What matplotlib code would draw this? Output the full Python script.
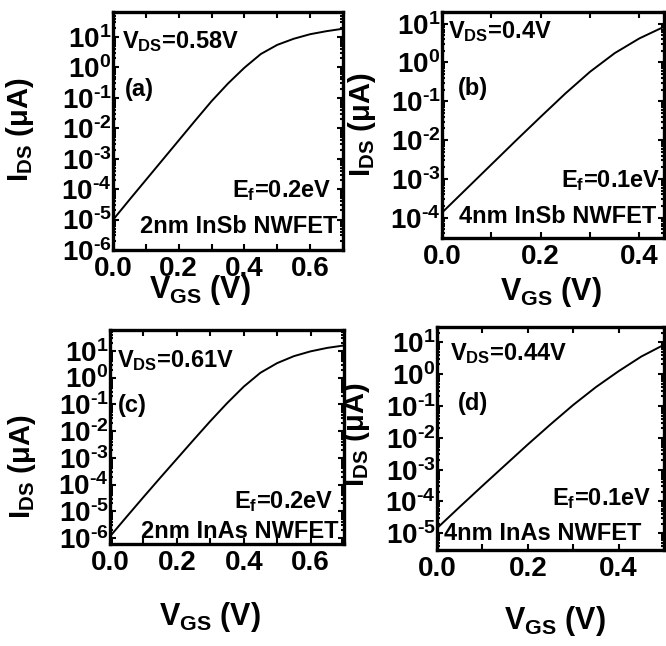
import numpy as np
import matplotlib
matplotlib.use('Agg')
import matplotlib.pyplot as plt
from matplotlib.ticker import FuncFormatter, LogLocator, MultipleLocator, NullFormatter

plt.rcParams['font.family'] = 'Liberation Sans'
plt.rcParams['font.weight'] = 'bold'
plt.rcParams['mathtext.fontset'] = 'custom'
plt.rcParams['mathtext.rm'] = 'Liberation Sans'
plt.rcParams['mathtext.bf'] = 'Liberation Sans:bold'
plt.rcParams['mathtext.it'] = 'Liberation Sans:bold:italic'

# V_GS (V) and log10(I_DS / uA)
vgs_a = [0.0, 0.05, 0.10, 0.15, 0.20, 0.25, 0.30, 0.35, 0.40, 0.45, 0.50, 0.55, 0.60, 0.65, 0.70]
logi_a = [-5.01, -4.35, -3.70, -3.05, -2.40, -1.75, -1.11, -0.53, -0.01, 0.44, 0.74, 0.94, 1.09, 1.19, 1.27]

vgs_b = [0.0, 0.05, 0.10, 0.15, 0.20, 0.25, 0.30, 0.35, 0.40, 0.45]
logi_b = [-3.87, -3.25, -2.63, -2.01, -1.40, -0.80, -0.24, 0.24, 0.62, 0.92]

vgs_c = [0.0, 0.05, 0.10, 0.15, 0.20, 0.25, 0.30, 0.35, 0.40, 0.45, 0.50, 0.55, 0.60, 0.65, 0.70]
logi_c = [-5.94, -5.20, -4.47, -3.75, -3.04, -2.33, -1.63, -0.96, -0.34, 0.18, 0.54, 0.80, 0.98, 1.11, 1.20]

vgs_d = [0.0, 0.05, 0.10, 0.15, 0.20, 0.25, 0.30, 0.35, 0.40, 0.45, 0.50]
logi_d = [-4.84, -4.17, -3.51, -2.86, -2.21, -1.58, -0.97, -0.41, 0.09, 0.55, 0.92]

vds_labels = ['0.58V', '0.4V', '0.61V', '0.44V']
ef_labels = ['0.2eV', '0.1eV', '0.2eV', '0.1eV']
device_labels = ['2nm InSb NWFET', '4nm InSb NWFET', '2nm InAs NWFET', '4nm InAs NWFET']
panel_labels = ['(a)', '(b)', '(c)', '(d)']

W, H = 666, 646
fig = plt.figure(figsize=(W / 100, H / 100), dpi=100)


def px_axes(left, right, top, bottom):
    return fig.add_axes([left / W, 1 - bottom / H, (right - left) / W, (bottom - top) / H])


def fmt_log(y, pos):
    e = int(round(np.log10(y)))
    return r'$\mathbf{10}^{\text{%d}}$' % e


# per panel: axes box (px), xlim, ylim, text positions (axes frac), label positions (px)
panels = [
    dict(box=(113, 343, 12, 250), xlim=(0, 0.7), ylim=(1e-6, 66),
         vds=(0.04, 0.85), pl=(0.05, 0.645), ef=(0.95, 0.223), dev=(0.975, 0.07), dev_ha='right',
         ylab=(20, 130), xlab=(200, 290)),
    dict(box=(442, 664, 12, 238), xlim=(0, 0.45), ylim=(3e-5, 20),
         vds=(0.027, 0.885), pl=(0.07, 0.633), ef=(0.535, 0.226), dev=(0.077, 0.066), dev_ha='left',
         ylab=(362, 125), xlab=(551, 292)),
    dict(box=(110, 344, 330, 544), xlim=(0, 0.7), ylim=(6e-7, 60),
         vds=(0.03, 0.827), pl=(0.035, 0.617), ef=(0.957, 0.168), dev=(0.975, 0.03), dev_ha='right',
         ylab=(22, 467), xlab=(210, 617)),
    dict(box=(437, 664, 327, 550), xlim=(0, 0.5), ylim=(3e-6, 30),
         vds=(0.057, 0.85), pl=(0.09, 0.63), ef=(0.947, 0.2), dev=(0.03, 0.045), dev_ha='left',
         ylab=(356, 435), xlab=(555, 621)),
]
vgs_all = [vgs_a, vgs_b, vgs_c, vgs_d]
logi_all = [logi_a, logi_b, logi_c, logi_d]

for i, p in enumerate(panels):
    ax = px_axes(*p['box'])
    ax.semilogy(vgs_all[i], 10 ** np.array(logi_all[i]), color='black', lw=1.4)
    ax.set_xlim(*p['xlim'])
    ax.set_ylim(*p['ylim'])

    ax.xaxis.set_major_locator(MultipleLocator(0.2))
    ax.xaxis.set_minor_locator(MultipleLocator(0.1))
    ax.xaxis.set_major_formatter(FuncFormatter(lambda v, pos: '%.1f' % v))
    ax.yaxis.set_major_locator(LogLocator(base=10, numticks=20))
    ax.yaxis.set_minor_locator(LogLocator(base=10, subs=np.arange(2, 10), numticks=20))
    ax.yaxis.set_major_formatter(FuncFormatter(fmt_log))
    ax.yaxis.set_minor_formatter(NullFormatter())

    ax.tick_params(which='both', direction='in', top=True, right=True, width=1.5)
    ax.tick_params(which='major', length=4, labelsize=20)
    ax.tick_params(which='minor', length=2.5)
    ax.tick_params(axis='x', which='minor', length=4)
    ax.tick_params(axis='y', pad=1)
    ax.tick_params(axis='x', pad=4)
    for s in ax.spines.values():
        s.set_linewidth(2.4)

    ax.set_ylabel(r'I$_{\mathbf{DS}}$ (μA)', fontsize=21, fontweight='bold')
    ax.yaxis.set_label_coords(p['ylab'][0] / W, 1 - p['ylab'][1] / H, transform=fig.transFigure)
    ax.yaxis.label.set_verticalalignment('center')
    ax.set_xlabel(r'V$_{\mathbf{GS}}$ (V)', fontsize=22, fontweight='bold')
    ax.xaxis.set_label_coords(p['xlab'][0] / W, 1 - p['xlab'][1] / H, transform=fig.transFigure)
    ax.xaxis.label.set_verticalalignment('center')

    ax.text(p['vds'][0], p['vds'][1], r'V$_{\mathbf{DS}}$=' + vds_labels[i], transform=ax.transAxes,
            fontsize=17, fontweight='bold', va='baseline', ha='left')
    ax.text(p['pl'][0], p['pl'][1], panel_labels[i], transform=ax.transAxes,
            fontsize=17, fontweight='bold', va='baseline', ha='left')
    ef_ha = 'left' if i == 1 else 'right'
    ax.text(p['ef'][0], p['ef'][1], r'E$_{\mathbf{f}}$=' + ef_labels[i], transform=ax.transAxes,
            fontsize=17, fontweight='bold', va='baseline', ha=ef_ha)
    ax.text(p['dev'][0], p['dev'][1], device_labels[i], transform=ax.transAxes,
            fontsize=17, fontweight='bold', va='baseline', ha=p['dev_ha'])

fig.savefig('out.png', dpi=100)
